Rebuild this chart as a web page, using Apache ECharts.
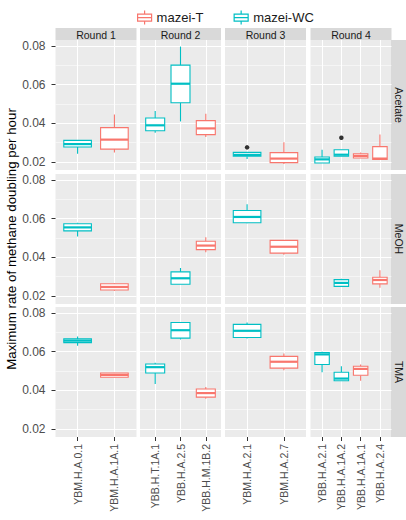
<!DOCTYPE html>
<html><head><meta charset="utf-8">
<script src="https://cdn.jsdelivr.net/npm/echarts@6/dist/echarts.min.js"></script>
<style>html,body{margin:0;padding:0;background:#fff}#c{width:406px;height:520px}</style>
</head><body><div id="c"></div>
<script>
// ---------- data ----------
const rounds = ['Round 1', 'Round 2', 'Round 3', 'Round 4'];
const substrates = ['Acetate', 'MeOH', 'TMA'];
const roundCategories = [
  ['YBM.H.A.0.1', 'YBM.H.A.1A.1'],
  ['YBB.H.T.1A.1', 'YBB.H.A.2.5', 'YBB.H.M.1B.2'],
  ['YBM.H.A.2.1', 'YBM.H.A.2.7'],
  ['YBB.H.A.2.1', 'YBB.H.A.1A.2', 'YBB.H.A.1A.1', 'YBB.H.A.2.4']
];
const yTicks = [0.02, 0.04, 0.06, 0.08];
const yMinorTicks = [0.03, 0.05, 0.07];
const groups = ['mazei-T', 'mazei-WC'];
const yTitle = 'Maximum rate of methane doubling per hour';

// [substrate, round, category, min, Q1, median, Q3, max]
const mazeiT = [
  ['Acetate', 'Round 1', 'YBM.H.A.1A.1', 0.0249, 0.0267, 0.0316, 0.0378, 0.0446],
  ['Acetate', 'Round 2', 'YBB.H.M.1B.2', 0.0330, 0.0342, 0.0374, 0.0414, 0.0450],
  ['Acetate', 'Round 3', 'YBM.H.A.2.7', 0.0190, 0.0197, 0.0218, 0.0249, 0.0302],
  ['Acetate', 'Round 4', 'YBB.H.A.1A.1', 0.0221, 0.0221, 0.0232, 0.0243, 0.0249],
  ['Acetate', 'Round 4', 'YBB.H.A.2.4', 0.0213, 0.0213, 0.0218, 0.0280, 0.0342],
  ['MeOH', 'Round 1', 'YBM.H.A.1A.1', 0.0228, 0.0231, 0.0247, 0.0264, 0.0267],
  ['MeOH', 'Round 2', 'YBB.H.M.1B.2', 0.0426, 0.0440, 0.0461, 0.0483, 0.0504],
  ['MeOH', 'Round 3', 'YBM.H.A.2.7', 0.0414, 0.0422, 0.0455, 0.0488, 0.0488],
  ['MeOH', 'Round 4', 'YBB.H.A.2.4', 0.0243, 0.0263, 0.0283, 0.0297, 0.0333],
  ['TMA', 'Round 1', 'YBM.H.A.1A.1', 0.0467, 0.0468, 0.0480, 0.0490, 0.0491],
  ['TMA', 'Round 2', 'YBB.H.M.1B.2', 0.0357, 0.0365, 0.0386, 0.0407, 0.0417],
  ['TMA', 'Round 3', 'YBM.H.A.2.7', 0.0504, 0.0515, 0.0548, 0.0576, 0.0591],
  ['TMA', 'Round 4', 'YBB.H.A.1A.1', 0.0450, 0.0478, 0.0511, 0.0525, 0.0534]
];
const mazeiWC = [
  ['Acetate', 'Round 1', 'YBM.H.A.0.1', 0.0243, 0.0278, 0.0293, 0.0312, 0.0312],
  ['Acetate', 'Round 2', 'YBB.H.T.1A.1', 0.0352, 0.0362, 0.0390, 0.0428, 0.0464],
  ['Acetate', 'Round 2', 'YBB.H.A.2.5', 0.0410, 0.0507, 0.0605, 0.0701, 0.0797],
  ['Acetate', 'Round 3', 'YBM.H.A.2.1', 0.0216, 0.0230, 0.0237, 0.0250, 0.0250],
  ['Acetate', 'Round 4', 'YBB.H.A.2.1', 0.0195, 0.0195, 0.0214, 0.0226, 0.0264],
  ['Acetate', 'Round 4', 'YBB.H.A.1A.2', 0.0230, 0.0230, 0.0238, 0.0264, 0.0264],
  ['MeOH', 'Round 1', 'YBM.H.A.0.1', 0.0508, 0.0537, 0.0555, 0.0574, 0.0579],
  ['MeOH', 'Round 2', 'YBB.H.A.2.5', 0.0261, 0.0261, 0.0292, 0.0325, 0.0345],
  ['MeOH', 'Round 3', 'YBM.H.A.2.1', 0.0577, 0.0579, 0.0609, 0.0642, 0.0675],
  ['MeOH', 'Round 4', 'YBB.H.A.1A.2', 0.0248, 0.0250, 0.0268, 0.0285, 0.0290],
  ['TMA', 'Round 1', 'YBM.H.A.0.1', 0.0631, 0.0647, 0.0657, 0.0666, 0.0678],
  ['TMA', 'Round 2', 'YBB.H.T.1A.1', 0.0433, 0.0490, 0.0520, 0.0536, 0.0543],
  ['TMA', 'Round 2', 'YBB.H.A.2.5', 0.0663, 0.0670, 0.0711, 0.0751, 0.0751],
  ['TMA', 'Round 3', 'YBM.H.A.2.1', 0.0668, 0.0673, 0.0708, 0.0741, 0.0751],
  ['TMA', 'Round 4', 'YBB.H.A.2.1', 0.0494, 0.0534, 0.0586, 0.0595, 0.0600],
  ['TMA', 'Round 4', 'YBB.H.A.1A.2', 0.0450, 0.0450, 0.0461, 0.0494, 0.0525]
];
// [substrate, round, category, value]
const outliers = [
  ['Acetate', 'Round 3', 'YBM.H.A.2.1', 0.0276],
  ['Acetate', 'Round 4', 'YBB.H.A.1A.2', 0.0326]
];

// ---------- layout / style ----------
const FONT = "'Liberation Sans', Arial, Helvetica, sans-serif";
const groupColors = { 'mazei-T': '#F8766D', 'mazei-WC': '#00BFC4' };
const groupData = { 'mazei-T': mazeiT, 'mazei-WC': mazeiWC };
const colLeft = [55.5, 140, 225, 310.5];
const colW = 81;
const rowTop = [40, 174, 307];
const rowH = 130;
const Y_MIN = 0.0159, Y_MAX = 0.0831;

function makeRender(color) {
  return function (params, api) {
    const x = api.value(0);
    const pLo = api.coord([x, api.value(1)]);
    const pQ1 = api.coord([x, api.value(2)]);
    const pMed = api.coord([x, api.value(3)]);
    const pQ3 = api.coord([x, api.value(4)]);
    const pHi = api.coord([x, api.value(5)]);
    const hw = api.size([0.75, 0])[0] / 2;
    const cx = pMed[0];
    const lw = 1.1;
    return {
      type: 'group',
      children: [
        { type: 'line', shape: { x1: cx, y1: pHi[1], x2: cx, y2: pQ3[1] }, style: { stroke: color, lineWidth: lw } },
        { type: 'line', shape: { x1: cx, y1: pQ1[1], x2: cx, y2: pLo[1] }, style: { stroke: color, lineWidth: lw } },
        { type: 'rect', shape: { x: cx - hw, y: pQ3[1], width: 2 * hw, height: pQ1[1] - pQ3[1] }, style: { fill: '#fff', stroke: color, lineWidth: lw } },
        { type: 'line', shape: { x1: cx - hw, y1: pMed[1], x2: cx + hw, y2: pMed[1] }, style: { stroke: color, lineWidth: 2.2 } }
      ]
    };
  };
}

const grids = [], xAxes = [], yAxes = [], series = [], graphics = [];

substrates.forEach((sub, s) => {
  rounds.forEach((rd, r) => {
    const g = s * 4 + r;
    const cats = roundCategories[r];
    const idx = cats.map((c, i) => i + 1);
    grids.push({
      left: colLeft[r], top: rowTop[s], width: colW, height: rowH,
      show: true, backgroundColor: '#EBEBEB', borderWidth: 0
    });
    xAxes.push({
      type: 'value', gridIndex: g, min: 0.4, max: cats.length + 0.6,
      axisLine: { show: false },
      axisTick: { show: s === 2, length: 4, customValues: idx, lineStyle: { color: '#333', width: 1 } },
      axisLabel: {
        show: s === 2, customValues: idx, rotate: 90, margin: 7,
        formatter: v => cats[Math.round(v) - 1] || '',
        fontSize: 10.5, color: '#4D4D4D', fontFamily: FONT
      },
      splitLine: { show: true, lineStyle: { color: '#fff', width: 1.1 } }
    });
    const major = {
      type: 'value', gridIndex: g, min: Y_MIN, max: Y_MAX, position: 'left',
      axisLine: { show: false },
      axisTick: { show: r === 0, length: 4, customValues: yTicks, lineStyle: { color: '#333', width: 1 } },
      axisLabel: {
        show: r === 0, customValues: yTicks, margin: 10,
        formatter: v => v.toFixed(2), fontSize: 12, color: '#4D4D4D', fontFamily: FONT
      },
      splitLine: { show: true, lineStyle: { color: '#fff', width: 1.1 } }
    };
    if (g === 4) {
      Object.assign(major, {
        name: yTitle, nameLocation: 'middle', nameRotate: 90, nameGap: 38,
        nameTextStyle: { fontSize: 13.3, color: '#000', fontFamily: FONT }
      });
    }
    yAxes.push(major);
    yAxes.push({
      type: 'value', gridIndex: g, min: Y_MIN, max: Y_MAX, position: 'right',
      axisLine: { show: false },
      axisTick: { show: false, customValues: yMinorTicks },
      axisLabel: { show: false, customValues: yMinorTicks },
      splitLine: { show: true, lineStyle: { color: '#fff', width: 0.5 } }
    });

    groups.forEach(grp => {
      const rows = groupData[grp].filter(d => d[0] === sub && d[1] === rd);
      if (!rows.length) return;
      series.push({
        type: 'custom', name: grp, xAxisIndex: g, yAxisIndex: 2 * g,
        renderItem: makeRender(groupColors[grp]),
        itemStyle: { color: '#fff', borderColor: groupColors[grp] },
        encode: { x: 0, y: [1, 2, 3, 4, 5] },
        data: rows.map(d => [cats.indexOf(d[2]) + 1, d[3], d[4], d[5], d[6], d[7]]),
        z: 3
      });
    });
    const outs = outliers.filter(d => d[0] === sub && d[1] === rd);
    if (outs.length) {
      series.push({
        type: 'scatter', name: 'outlier', xAxisIndex: g, yAxisIndex: 2 * g,
        symbolSize: 4.5, itemStyle: { color: '#000' }, silent: true, z: 4,
        data: outs.map(d => [cats.indexOf(d[2]) + 1, d[3]])
      });
    }
  });
});

// facet strips
rounds.forEach((rd, r) => {
  graphics.push({ type: 'rect', left: colLeft[r], top: 28, shape: { width: colW, height: 12 }, style: { fill: '#D9D9D9' } });
  graphics.push({
    type: 'text', x: colLeft[r] + colW / 2, y: 34.5,
    style: { text: rd, fill: '#1A1A1A', font: '10.5px ' + FONT, align: 'center', verticalAlign: 'middle' }
  });
});
substrates.forEach((sub, s) => {
  graphics.push({ type: 'rect', left: 391, top: rowTop[s], shape: { width: 16, height: rowH }, style: { fill: '#D9D9D9' } });
  graphics.push({
    type: 'text', x: 398.5, y: rowTop[s] + rowH / 2, rotation: -Math.PI / 2,
    style: { text: sub, fill: '#1A1A1A', font: '10.5px ' + FONT, align: 'center', verticalAlign: 'middle' }
  });
});

const iconPath = 'path://M0,3.5L14,3.5L14,10.5L0,10.5Z M0,7L14,7 M7,0L7,3.5 M7,10.5L7,14';

const option = {
  animation: false,
  backgroundColor: '#fff',
  legend: {
    left: 132, top: 5, itemWidth: 14, itemHeight: 14, itemGap: 30,
    icon: iconPath,
    textStyle: { fontSize: 13, color: '#1A1A1A', fontFamily: FONT },
    data: groups.map(g => ({
      name: g,
      itemStyle: { color: '#fff', borderColor: groupColors[g], borderWidth: 1.2 }
    }))
  },
  grid: grids,
  xAxis: xAxes,
  yAxis: yAxes,
  series: series,
  graphic: graphics
};

const chart = echarts.init(document.getElementById('c'), null, { renderer: 'svg' });
chart.setOption(option);
</script>
</body></html>
